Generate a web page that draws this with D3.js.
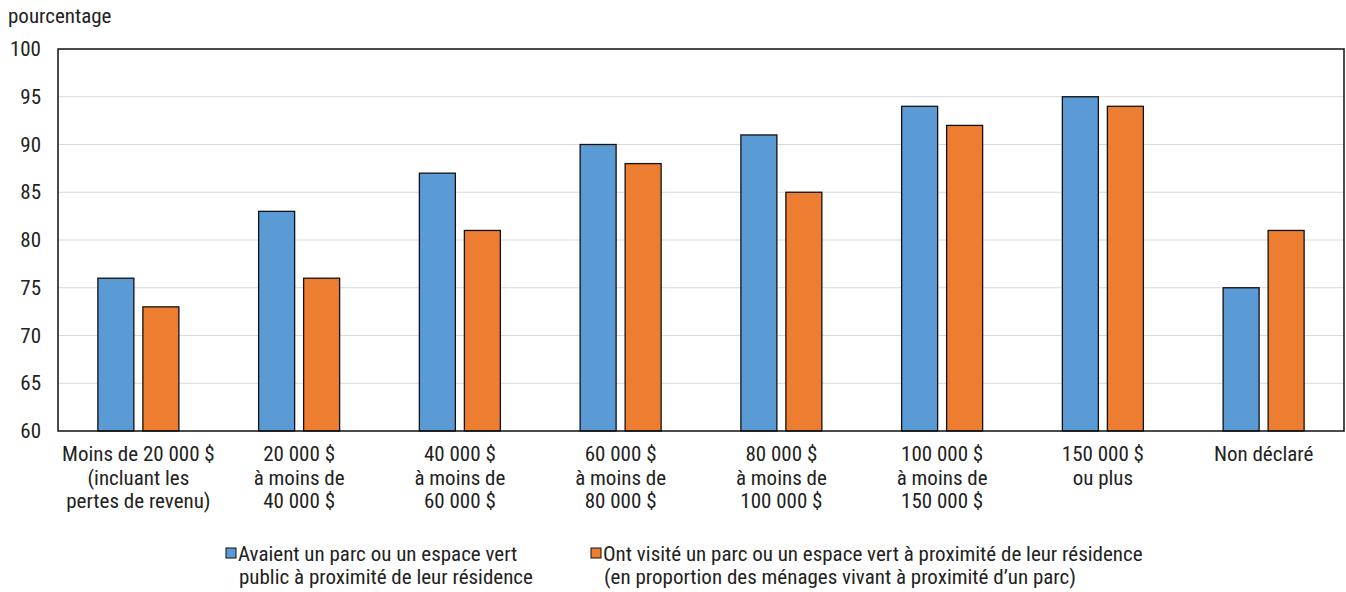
<!DOCTYPE html>
<html><head><meta charset="utf-8">
<script src="https://cdn.jsdelivr.net/npm/d3@7"></script>
<style>
body{margin:0;background:#fff;}
text{font-family:"Liberation Sans Narrow","Roboto Condensed","Arial Narrow",sans-serif;fill:#222;}
</style></head>
<body><svg id="c" width="1346" height="592"></svg>
<script>
const categories = [
  ["Moins de 20 000 $","(incluant les","pertes de revenu)"],
  ["20 000 $","à moins de","40 000 $"],
  ["40 000 $","à moins de","60 000 $"],
  ["60 000 $","à moins de","80 000 $"],
  ["80 000 $","à moins de","100 000 $"],
  ["100 000 $","à moins de","150 000 $"],
  ["150 000 $","ou plus"],
  ["Non déclaré"]
];
const seriesNames = [
  ["Avaient un parc ou un espace vert","public à proximité de leur résidence"],
  ["Ont visité un parc ou un espace vert à proximité de leur résidence","(en proportion des ménages vivant à proximité d’un parc)"]
];
const hadPark = [76, 83, 87, 90, 91, 94, 95, 75];
const visited = [73, 76, 81, 88, 85, 92, 94, 81];
const yTicks = [60, 65, 70, 75, 80, 85, 90, 95, 100];
const colors = ["#5b9bd5", "#ed7d31"];

const FONT = '"Liberation Sans Narrow","Roboto Condensed","Arial Narrow",sans-serif';
const FS = 21;
const svg = d3.select("#c");
const L = 58, R = 1344, T = 49, B = 431;
const x = d3.scaleBand().domain(d3.range(categories.length)).range([L, R]);
const y = d3.scaleLinear().domain([60, 100]).range([B, T]);

// gridlines
svg.append("g").selectAll("line").data(yTicks.slice(1, -1)).join("line")
  .attr("x1", L).attr("x2", R).attr("y1", d => y(d)).attr("y2", d => y(d))
  .attr("stroke", "#d9d9d9").attr("stroke-width", 1);

// y tick labels
const yAxis = d3.axisLeft(y).tickValues(yTicks).tickSize(0).tickPadding(17);
const ga = svg.append("g").attr("transform", `translate(${L},0)`).call(yAxis);
ga.select(".domain").remove();
ga.selectAll("text").attr("font-size", FS).style("font-family", FONT).attr("fill", "#222");

svg.append("text").attr("x", 8).attr("y", 23).attr("font-size", FS).text("pourcentage");

// bars
const bw = 36, gap = 9;
const data = [hadPark, visited];
data.forEach((vals, si) => {
  svg.append("g").selectAll("rect").data(vals).join("rect")
    .attr("x", (d, i) => x(i) + x.bandwidth() / 2 + (si === 0 ? -gap / 2 - bw : gap / 2))
    .attr("width", bw)
    .attr("y", d => y(d))
    .attr("height", d => B - y(d))
    .attr("fill", colors[si])
    .attr("stroke", "#111").attr("stroke-width", 1.3);
});

// frame
svg.append("rect").attr("x", L).attr("y", T).attr("width", R - L).attr("height", B - T)
  .attr("fill", "none").attr("stroke", "#111").attr("stroke-width", 1.5);

// x labels
const xl = svg.append("g").selectAll("text").data(categories).join("text")
  .attr("text-anchor", "middle").attr("font-size", FS)
  .attr("x", (d, i) => x(i) + x.bandwidth() / 2).attr("y", 461);
xl.selectAll("tspan").data(d => d).join("tspan")
  .attr("x", function() { return this.parentNode.getAttribute("x"); })
  .attr("dy", (d, i) => i === 0 ? 0 : 23.5).text(d => d);

// legend
const legX = [225, 590];
seriesNames.forEach((lines, si) => {
  const g = svg.append("g");
  g.append("rect").attr("x", legX[si] + 1).attr("y", 548).attr("width", 10).attr("height", 10)
    .attr("fill", colors[si]).attr("stroke", "#111").attr("stroke-width", 1);
  const t = g.append("text").attr("font-size", FS).attr("x", legX[si] + 13).attr("y", 561);
  t.selectAll("tspan").data(lines).join("tspan")
    .attr("x", (d, i) => i === 0 ? legX[si] + 13 : legX[si] + 14)
    .attr("dy", (d, i) => i === 0 ? 0 : 23).text(d => d);
});
</script></body></html>
